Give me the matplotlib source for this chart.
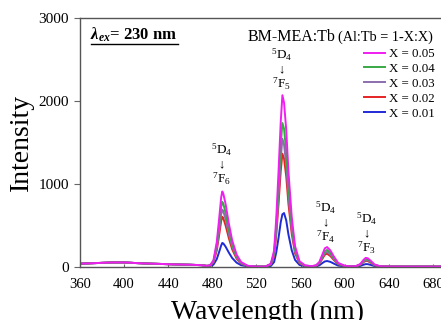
#!/usr/bin/env python3
"""Tb3+ emission spectra of BM-MEA:Tb for several Tb fractions X."""

import matplotlib
matplotlib.use("Agg")
import matplotlib.pyplot as plt
from matplotlib.lines import Line2D

plt.rcParams["font.family"] = ["Liberation Serif", "DejaVu Serif"]
plt.rcParams["mathtext.fontset"] = "custom"
plt.rcParams["mathtext.rm"] = "Liberation Serif"
plt.rcParams["mathtext.it"] = "Liberation Serif:italic"
plt.rcParams["mathtext.bf"] = "Liberation Serif:bold"
plt.rcParams["mathtext.bfit"] = "Liberation Serif:italic:bold"

# wavelength grid (nm) shared by all spectra
wavelength = [360, 370, 380, 390, 400, 410, 420, 430, 440, 450, 460, 470, 475,
              478, 481, 484, 486, 488, 489, 490, 492, 495, 498, 502, 506, 512,
              520, 528, 533, 536, 538, 540, 542, 543.5, 545, 547, 549, 552, 555,
              559, 564, 570, 574, 577, 580, 582, 584, 587, 590, 594, 600, 606,
              610, 614, 617, 619, 621, 624, 627, 632, 640, 660, 680, 700]

# emission intensity (a.u.), one list per Tb fraction
x_005 = [40, 45, 50, 55, 55, 48, 42, 38, 34, 30, 27, 22, 14,
         22, 80, 300, 560, 840, 910, 880, 760, 520, 320, 150, 60, 15,
         5, 5, 40, 200, 600, 1150, 1750, 2070, 1980, 1650, 1150, 600, 250,
         70, 20, 10, 20, 60, 160, 225, 240, 200, 130, 50, 15, 8,
         10, 35, 85, 110, 105, 70, 30, 10, 6, 5, 5, 5]
x_004 = [40, 45, 50, 55, 55, 48, 42, 38, 34, 30, 27, 22, 14,
         20, 70, 260, 480, 720, 785, 760, 650, 445, 275, 130, 52, 13,
         5, 5, 34, 168, 505, 965, 1470, 1735, 1665, 1385, 965, 505, 210,
         59, 17, 10, 18, 52, 135, 190, 205, 170, 110, 43, 13, 7,
         9, 30, 73, 95, 90, 60, 26, 9, 6, 5, 5, 5]
x_003 = [40, 45, 50, 55, 55, 48, 42, 38, 34, 30, 27, 22, 14,
         18, 62, 230, 425, 635, 690, 670, 575, 395, 245, 115, 46, 12,
         5, 5, 30, 149, 447, 857, 1304, 1545, 1475, 1230, 857, 447, 186,
         52, 15, 9, 16, 46, 120, 168, 182, 150, 98, 38, 12, 7,
         8, 27, 65, 85, 80, 54, 23, 8, 6, 5, 5, 5]
x_002 = [40, 45, 50, 55, 55, 48, 42, 38, 34, 30, 27, 22, 14,
         17, 55, 200, 370, 555, 605, 585, 500, 345, 212, 100, 40, 11,
         5, 5, 26, 132, 396, 759, 1155, 1365, 1307, 1089, 759, 396, 165,
         46, 13, 8, 14, 40, 105, 148, 160, 132, 86, 33, 11, 6,
         8, 24, 57, 75, 71, 48, 21, 8, 6, 5, 5, 5]
x_001 = [40, 45, 50, 55, 55, 48, 42, 38, 34, 30, 27, 22, 12,
         12, 28, 95, 175, 260, 290, 283, 245, 172, 108, 52, 22, 8,
         4, 4, 12, 60, 180, 350, 540, 635, 650, 560, 390, 200, 85,
         25, 9, 6, 8, 20, 50, 67, 72, 62, 42, 17, 7, 5,
         6, 12, 27, 35, 34, 24, 11, 5, 5, 5, 5, 5]

series = [("X = 0.05", x_005, "#f01ef0"),
          ("X = 0.04", x_004, "#3aa845"),
          ("X = 0.03", x_003, "#8c6eae"),
          ("X = 0.02", x_002, "#e52225"),
          ("X = 0.01", x_001, "#1f2bd6")]

x_ticks = [360, 400, 440, 480, 520, 560, 600, 640, 680]
y_ticks = [0, 1000, 2000, 3000]

# (x, y of top label) for each 5D4 -> 7FJ transition label
transitions = [(488, 1410, "6"), (543, 2554, "5"), (583, 711, "4"), (620, 578, "3")]

W, H = 441, 320
fig = plt.figure(figsize=(W / 100, H / 100), dpi=100)
ax = fig.add_axes([80 / W, 1 - 267 / H, 375 / W, 249 / H])

for label, values, color in reversed(series):
    ax.plot(wavelength, values, color=color, lw=1.4, label=label)

ax.set_xlim(360, 700)
ax.set_ylim(0, 3000)
ax.set_xticks(x_ticks)
ax.set_yticks(y_ticks)
ax.tick_params(axis="x", direction="in", length=2, pad=8, labelsize=10.5, color="#666666")
ax.tick_params(axis="y", direction="out", length=4, pad=4, labelsize=11, color="#666666")
for side in ax.spines.values():
    side.set_color("#555555")
    side.set_linewidth(1.0)

ax.set_xlabel("Wavelength (nm)", fontsize=20, labelpad=6)
ax.set_ylabel("Intensity", fontsize=20, labelpad=3)

handles, labels = ax.get_legend_handles_labels()
ax.legend(handles[::-1], labels[::-1], loc="upper left",
          bbox_to_anchor=(364 / W, 1 - 48 / H), bbox_transform=fig.transFigure,
          frameon=False, fontsize=9.3, handlelength=1.6, handletextpad=0.3,
          labelspacing=0.22, borderpad=0, borderaxespad=0)

# excitation wavelength label, bold and underlined
ax.text(369, 2740, r"$\mathbfit{\lambda}_{\mathbfit{ex}}$" + "= 230 nm",
        fontsize=12, fontweight="bold", va="baseline", ha="left")
fig.add_artist(Line2D([91 / W, 178 / W], [1 - 44 / H, 1 - 44 / H],
                      color="black", lw=1.0, transform=fig.transFigure))

fig.text(248 / W, 1 - 41 / H, "BM-MEA:Tb", fontsize=11.5, va="baseline")
fig.text(338 / W, 1 - 41 / H, "(Al:Tb = 1-X:X)", fontsize=10.3, va="baseline")

for wl, top, j in transitions:
    ax.text(wl, top, r"$^{5}\mathrm{D}_{4}$", fontsize=9.5, ha="center", va="center")
    ax.text(wl, top - 175, "\u2193", fontsize=9, ha="center", va="center")
    ax.text(wl, top - 345, r"$^{7}\mathrm{F}_{%s}$" % j, fontsize=9.5, ha="center", va="center")

fig.savefig("out.png", dpi=100)
